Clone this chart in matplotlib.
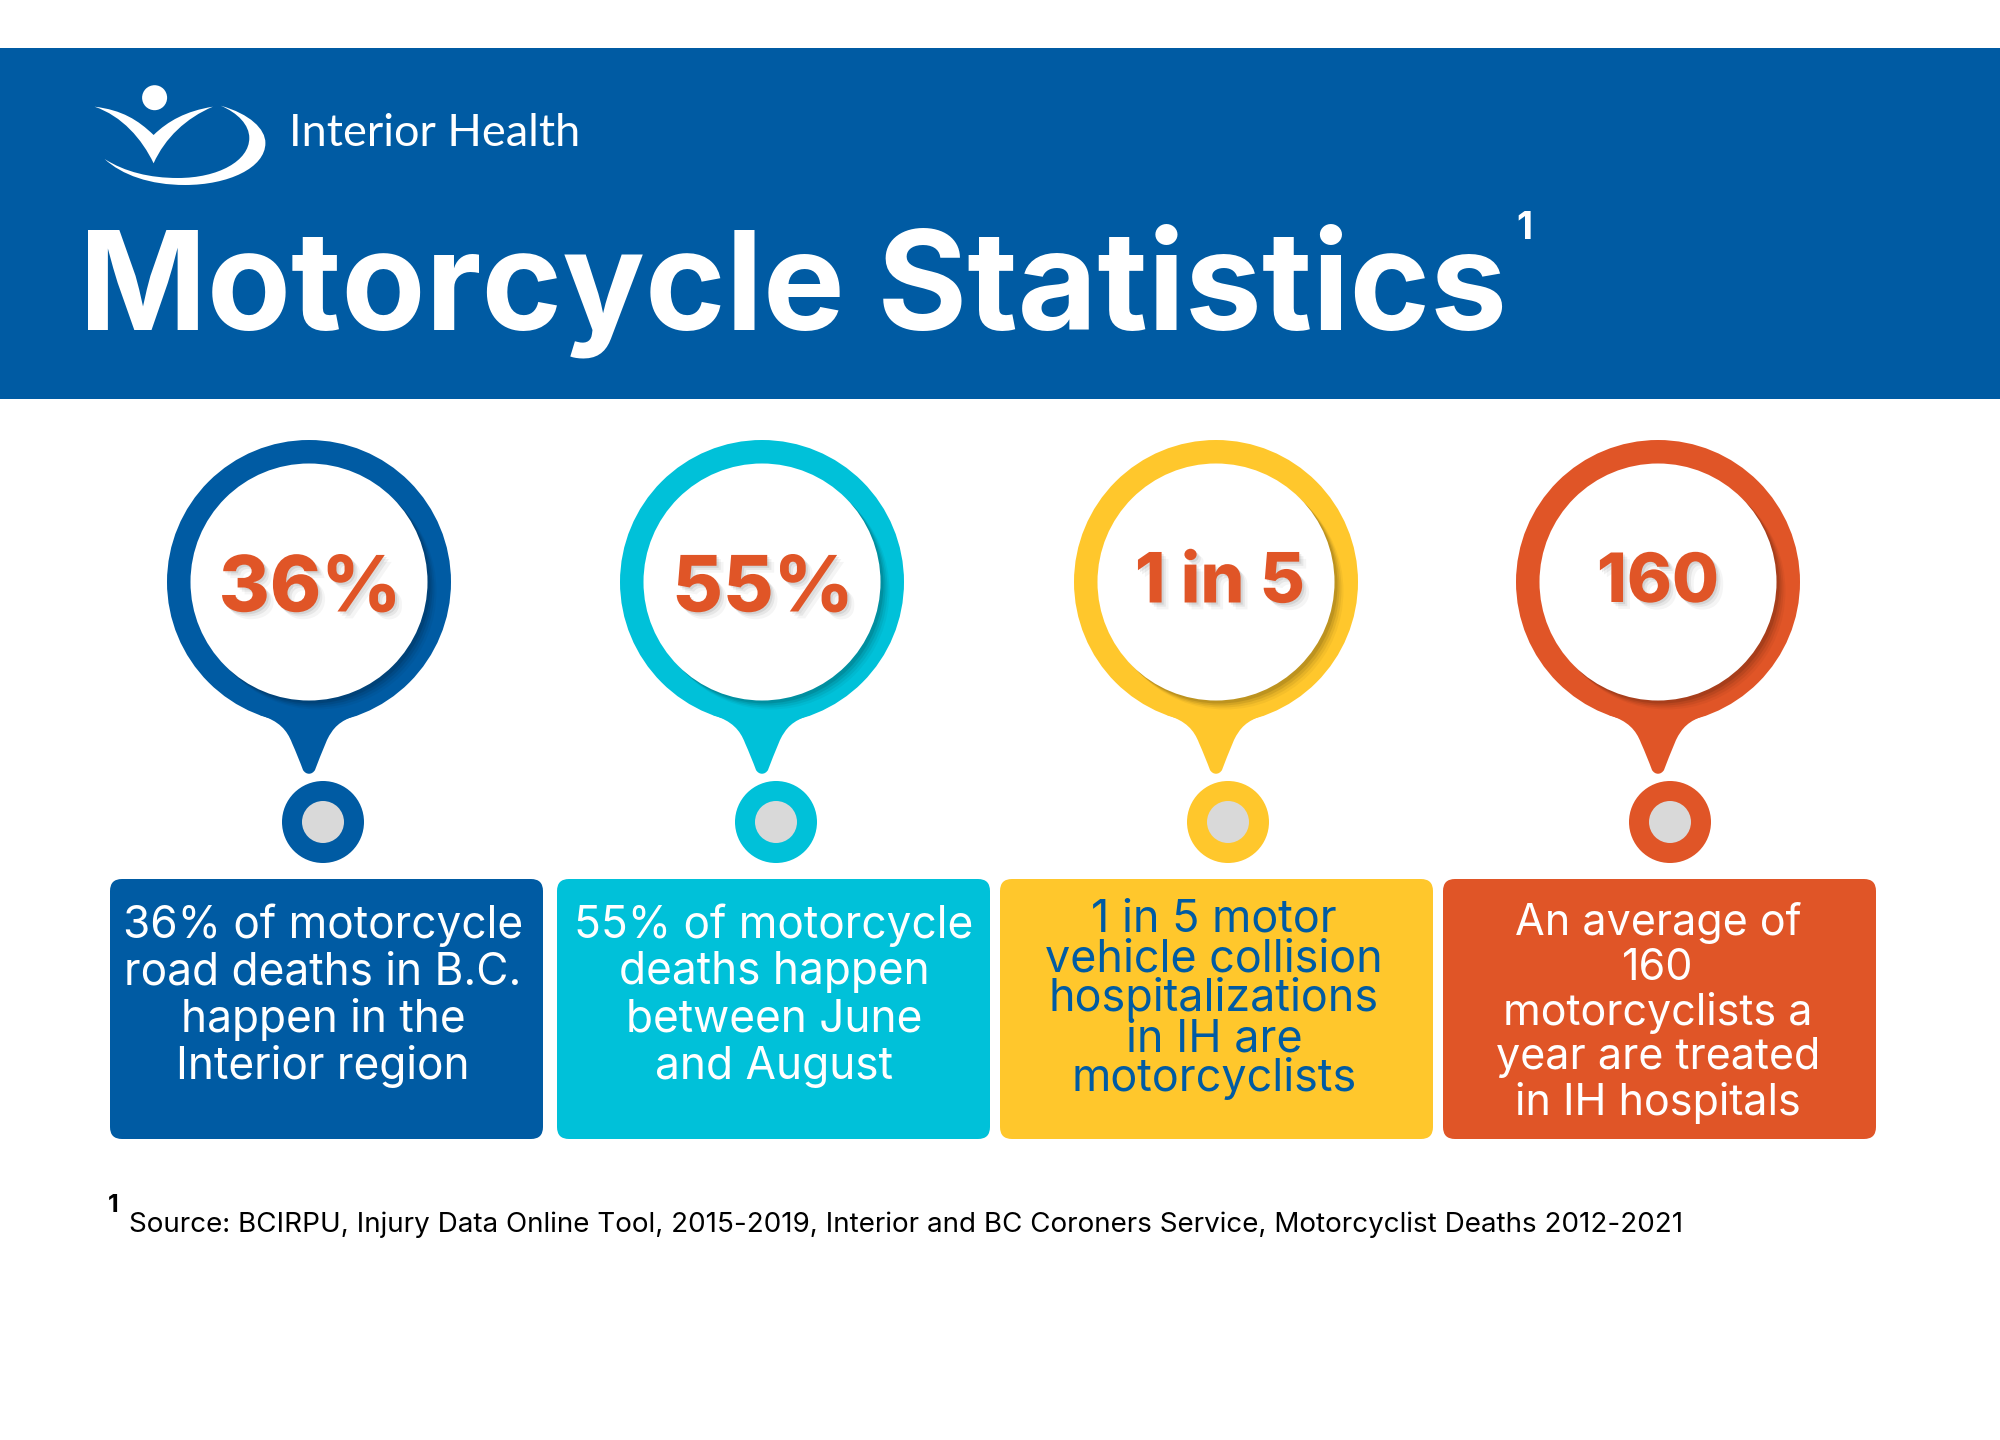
import matplotlib
matplotlib.use("Agg")
import matplotlib.pyplot as plt
import matplotlib.patheffects as pe
from matplotlib.patches import Circle, PathPatch, FancyBboxPatch, Rectangle
from matplotlib.path import Path

plt.rcParams["font.family"] = ["Inter", "DejaVu Sans"]

BLUE = "#005BA3"
CYAN = "#00C1D9"
YELLOW = "#FFC72C"
ORANGE = "#E05527"
GREY = "#D9D9D9"

big_labels = ["36%", "55%", "1 in 5", "160"]
descriptions = [
    ["36% of motorcycle", "road deaths in B.C.", "happen in the", "Interior region"],
    ["55% of motorcycle", "deaths happen", "between June", "and August"],
    ["1 in 5 motor", "vehicle collision", "hospitalizations", "in IH are", "motorcyclists"],
    ["An average of", "160", "motorcyclists a", "year are treated", "in IH hospitals"],
]
card_colors = [BLUE, CYAN, YELLOW, ORANGE]
text_colors = ["white", "white", BLUE, "white"]
title = "Motorcycle Statistics"
org_name = "Interior Health"
source_text = "Source: BCIRPU, Injury Data Online Tool, 2015-2019, Interior and BC Coroners Service, Motorcyclist Deaths 2012-2021"

# layout, in pixels of the 2000x1440 picture
pin_x = [309, 762, 1216, 1658]
dot_x = [323, 776, 1228, 1670]
box_left = [110, 557, 1000, 1443]
label_xy = [(310, 591), (763, 591), (1220, 584), (1658, 584)]
label_size = [56, 56, 50, 49]
text_x = [323, 774, 1214, 1658]
text_top = [925, 925, 919, 923]
line_step = [47.3, 47.3, 40, 45]
text_size = [31.8, 31.8, 32.3, 31]


def add_pin(ax, cx, cy, color):
    ax.add_patch(Circle((cx, cy), 142, fc=color, ec="none"))
    # tail under the ring
    tail = Path(
        [(cx - 49, cy + 133),
         (cx - 30, cy + 139), (cx - 22, cy + 148), (cx - 17, cy + 161),
         (cx - 13, cy + 170), (cx - 9, cy + 180), (cx - 6, cy + 188),
         (cx - 3, cy + 193), (cx + 3, cy + 193), (cx + 6, cy + 188),
         (cx + 9, cy + 180), (cx + 13, cy + 170), (cx + 18, cy + 158),
         (cx + 24, cy + 146), (cx + 30, cy + 139), (cx + 48, cy + 133),
         (cx - 49, cy + 133)],
        [Path.MOVETO] + [Path.CURVE4] * 15 + [Path.CLOSEPOLY],
    )
    ax.add_patch(PathPatch(tail, fc=color, ec="none"))
    # soft shadow of the white disc on the ring
    for off, alpha in [(9, 0.04), (7, 0.06), (5, 0.08), (3, 0.1)]:
        ax.add_patch(Circle((cx + off, cy + off), 118.5, fc="black", ec="none", alpha=alpha))
    ax.add_patch(Circle((cx, cy), 118.5, fc="white", ec="none"))


def add_logo(ax):
    ax.add_patch(Circle((154.6, 97.7), 12.5, fc="white", ec="none"))
    check = Path(
        [(94.6, 106.7),
         (122, 110), (138, 120), (153.6, 135),
         (168, 121), (186, 111), (212.9, 106.7),
         (186, 118), (165, 138), (153.6, 163.3),
         (142, 139), (122, 116), (94.6, 106.7),
         (94.6, 106.7)],
        [Path.MOVETO] + [Path.CURVE4] * 12 + [Path.CLOSEPOLY],
    )
    ax.add_patch(PathPatch(check, fc="white", ec="none"))
    swoosh = Path(
        [(220.7, 105.7),
         (250, 114), (265.4, 129), (265.4, 143),
         (265.4, 168), (228, 185), (185, 185),
         (150, 185), (122, 175), (104.6, 159),
         (125, 172), (150, 178), (177.9, 178),
         (218, 178), (249.3, 161), (249.3, 138),
         (249.3, 125), (238, 113), (220.7, 105.7),
         (220.7, 105.7)],
        [Path.MOVETO] + [Path.CURVE4] * 18 + [Path.CLOSEPOLY],
    )
    ax.add_patch(PathPatch(swoosh, fc="white", ec="none"))


fig = plt.figure(figsize=(20, 14.4), dpi=100)
ax = fig.add_axes([0, 0, 1, 1])
ax.set_xlim(0, 2000)
ax.set_ylim(1440, 0)
ax.axis("off")

ax.add_patch(Rectangle((0, 48), 2000, 351, fc=BLUE, ec="none"))
add_logo(ax)
ax.text(289, 146, org_name, color="white", fontsize=32.5, family="Lato", va="baseline")
ax.text(79, 329, title, color="white", fontsize=98.9, fontweight="bold", va="baseline")
ax.text(1524, 239, "1", color="white", fontsize=27, fontweight="bold", ha="center", va="baseline")

for i, color in enumerate(card_colors):
    add_pin(ax, pin_x[i], 582, color)
    ax.add_patch(Circle((dot_x[i], 822), 41, fc=color, ec="none"))
    ax.add_patch(Circle((dot_x[i], 822), 21, fc=GREY, ec="none"))

    lx, ly = label_xy[i]
    ax.text(
        lx, ly, big_labels[i], color=ORANGE, fontsize=label_size[i], fontweight="heavy",
        ha="center", va="center",
        path_effects=[
            pe.SimplePatchShadow(offset=(5, -5), shadow_rgbFace="black", alpha=0.04),
            pe.SimplePatchShadow(offset=(3, -3), shadow_rgbFace="black", alpha=0.06),
            pe.SimplePatchShadow(offset=(1.5, -1.5), shadow_rgbFace="black", alpha=0.08),
            pe.Normal(),
        ],
    )

    ax.add_patch(FancyBboxPatch(
        (box_left[i] + 10, 889), 433 - 20, 260 - 20,
        boxstyle="round,pad=10,rounding_size=12", fc=color, ec="none",
    ))
    for j, line in enumerate(descriptions[i]):
        ax.text(
            text_x[i], text_top[i] + j * line_step[i], line, color=text_colors[i],
            fontsize=text_size[i], ha="center", va="center",
        )

ax.text(108, 1212, "1", color="black", fontsize=18, fontweight="bold", va="baseline")
ax.text(129, 1232, source_text, color="black", fontsize=20, va="baseline")

fig.savefig("out.png", dpi=100)
